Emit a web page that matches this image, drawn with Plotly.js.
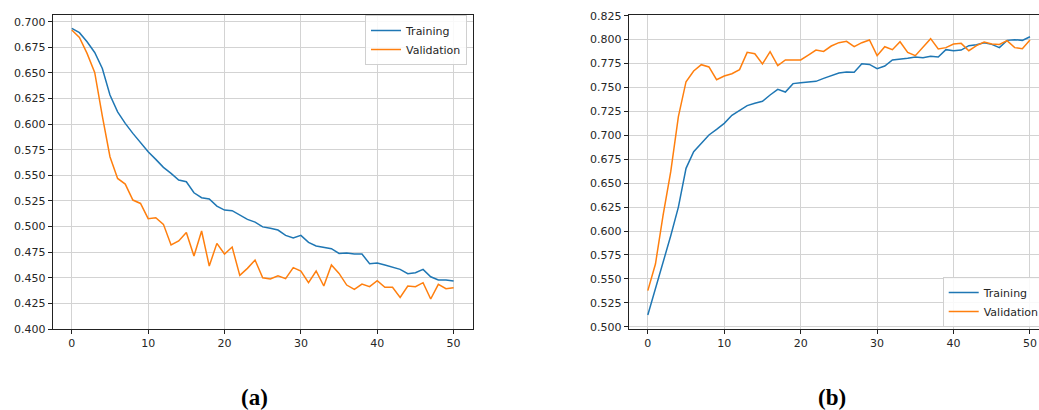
<!DOCTYPE html>
<html>
<head>
<meta charset="utf-8">
<script src="https://cdn.plot.ly/plotly-3.0.1.min.js"></script>
<style>
html,body{margin:0;padding:0;background:#fff;}
#chart{width:1039px;height:410px;}
</style>
</head>
<body>
<div id="chart"></div>
<script>
// Epochs
const epochs = Array.from({length: 51}, (_, i) => i);

// (a) Loss
const lossTraining = [
  0.6935, 0.6893, 0.6805, 0.6700, 0.6544, 0.6284, 0.6120, 0.6008, 0.5910, 0.5819,
  0.5730, 0.5656, 0.5578, 0.5520, 0.5454, 0.5438, 0.5330, 0.5282, 0.5270, 0.5200,
  0.5161, 0.5155, 0.5113, 0.5070, 0.5044, 0.4997, 0.4983, 0.4966, 0.4914, 0.4888,
  0.4914, 0.4846, 0.4810, 0.4794, 0.4784, 0.4738, 0.4742, 0.4732, 0.4732, 0.4638,
  0.4644, 0.4625, 0.4605, 0.4582, 0.4540, 0.4550, 0.4582, 0.4510, 0.4478, 0.4478,
  0.4468
];
const lossValidation = [
  0.6919, 0.6847, 0.6691, 0.6505, 0.6079, 0.5682, 0.5470, 0.5415, 0.5259, 0.5226,
  0.5077, 0.5087, 0.5022, 0.4820, 0.4859, 0.4943, 0.4712, 0.4957, 0.4615, 0.4836,
  0.4732, 0.4800, 0.4524, 0.4592, 0.4673, 0.4500, 0.4488, 0.4520, 0.4491, 0.4599,
  0.4566, 0.4452, 0.4566, 0.4420, 0.4625, 0.4543, 0.4429, 0.4387, 0.4439, 0.4413,
  0.4472, 0.4407, 0.4407, 0.4309, 0.4420, 0.4413, 0.4452, 0.4293, 0.4436, 0.4394,
  0.4403
];

// (b) Accuracy
const accTraining = [
  0.5122, 0.5390, 0.5670, 0.5950, 0.6250, 0.6655, 0.6829, 0.6916, 0.7003, 0.7062,
  0.7125, 0.7209, 0.7257, 0.7310, 0.7334, 0.7355, 0.7421, 0.7480, 0.7452, 0.7540,
  0.7550, 0.7560, 0.7564, 0.7595, 0.7623, 0.7651, 0.7661, 0.7658, 0.7748, 0.7741,
  0.7696, 0.7724, 0.7787, 0.7794, 0.7804, 0.7818, 0.7811, 0.7825, 0.7818, 0.7895,
  0.7884, 0.7891, 0.7937, 0.7947, 0.7968, 0.7950, 0.7916, 0.7992, 0.7999, 0.7992,
  0.8030
];
const accValidation = [
  0.5377, 0.5655, 0.6167, 0.6620, 0.7195, 0.7560, 0.7672, 0.7738, 0.7714, 0.7581,
  0.7620, 0.7644, 0.7686, 0.7867, 0.7853, 0.7745, 0.7874, 0.7728, 0.7787, 0.7787,
  0.7787, 0.7839, 0.7891, 0.7877, 0.7933, 0.7968, 0.7982, 0.7926, 0.7968, 0.7996,
  0.7832, 0.7926, 0.7895, 0.7978, 0.7867, 0.7832, 0.7926, 0.8010, 0.7902, 0.7916,
  0.7954, 0.7961, 0.7884, 0.7937, 0.7975, 0.7954, 0.7950, 0.7989, 0.7916, 0.7905,
  0.7996
];

const seriesNames = ['Training', 'Validation'];
const panelLabels = ['(a)', '(b)'];
const xTicks = [0, 10, 20, 30, 40, 50];

const BLUE = '#1f77b4', ORANGE = '#ff7f0e';
const tickFont = {family: 'DejaVu Sans', size: 11, color: '#262626'};

const traces = [
  {x: epochs, y: lossTraining, name: seriesNames[0], type: 'scatter', mode: 'lines',
   line: {color: BLUE, width: 1.5}, xaxis: 'x', yaxis: 'y', legend: 'legend'},
  {x: epochs, y: lossValidation, name: seriesNames[1], type: 'scatter', mode: 'lines',
   line: {color: ORANGE, width: 1.5}, xaxis: 'x', yaxis: 'y', legend: 'legend'},
  {x: epochs, y: accTraining, name: seriesNames[0], type: 'scatter', mode: 'lines',
   line: {color: BLUE, width: 1.5}, xaxis: 'x2', yaxis: 'y2', legend: 'legend2'},
  {x: epochs, y: accValidation, name: seriesNames[1], type: 'scatter', mode: 'lines',
   line: {color: ORANGE, width: 1.5}, xaxis: 'x2', yaxis: 'y2', legend: 'legend2'}
];

function xAxis(domain, range, anchor, mirror) {
  return {
    domain: domain, range: range, anchor: anchor, automargin: false,
    tickmode: 'array', tickvals: xTicks, ticktext: xTicks.map(String),
    showgrid: true, gridcolor: '#d3d3d3', gridwidth: 1,
    zeroline: false, showline: true, linecolor: '#222', linewidth: 1, mirror: mirror,
    ticks: 'outside', ticklen: 4, tickcolor: '#222', tickwidth: 1,
    tickfont: tickFont
  };
}
function yAxis(domain, range, anchor, dtick, first, mirror) {
  return {
    domain: domain, range: range, anchor: anchor, automargin: false,
    tick0: first, dtick: dtick, tickformat: '.3f',
    showgrid: true, gridcolor: '#d3d3d3', gridwidth: 1,
    zeroline: false, showline: true, linecolor: '#222', linewidth: 1, mirror: mirror,
    ticks: 'outside', ticklen: 4, tickcolor: '#222', tickwidth: 1,
    tickfont: tickFont
  };
}

const yDom = [1 - 329 / 410, 1 - 15.3 / 410];

const legendStyle = {
  bgcolor: 'rgba(255,255,255,0.85)', bordercolor: '#d0d0d0', borderwidth: 1,
  font: {family: 'DejaVu Sans', size: 11, color: '#262626'},
  itemwidth: 30, tracegroupgap: 0
};

const layout = {
  width: 1039, height: 410,
  margin: {l: 0, r: 0, t: 0, b: 0, autoexpand: false},
  paper_bgcolor: '#fff', plot_bgcolor: '#fff',
  showlegend: true,
  xaxis: xAxis([52.7 / 1039, 472.7 / 1039], [-2.5, 52.5], 'y', true),
  yaxis: yAxis(yDom, [0.400, 0.7063], 'x', 0.025, 0.4, true),
  xaxis2: xAxis([628.7 / 1039, 1], [-2.5, 51.18], 'y2', true),
  yaxis2: yAxis(yDom, [0.4976, 0.8254], 'x2', 0.025, 0.5, false),
  legend: Object.assign({x: 467 / 1039, xanchor: 'right', y: 1 - 15 / 410, yanchor: 'top'}, legendStyle),
  legend2: Object.assign({x: 942.7 / 1039, xanchor: 'left', y: 1 - 327 / 410, yanchor: 'bottom'}, legendStyle),
  annotations: [
    {text: '<b>' + panelLabels[0] + '</b>', xref: 'paper', yref: 'paper',
     x: 254 / 1039, y: 1 - 397 / 410, xanchor: 'center', yanchor: 'middle', showarrow: false,
     font: {family: 'Liberation Serif', size: 23, color: '#000'}},
    {text: '<b>' + panelLabels[1] + '</b>', xref: 'paper', yref: 'paper',
     x: 832 / 1039, y: 1 - 397 / 410, xanchor: 'center', yanchor: 'middle', showarrow: false,
     font: {family: 'Liberation Serif', size: 23, color: '#000'}}
  ]
};

Plotly.newPlot('chart', traces, layout, {staticPlot: true, displayModeBar: false});
</script>
</body>
</html>
